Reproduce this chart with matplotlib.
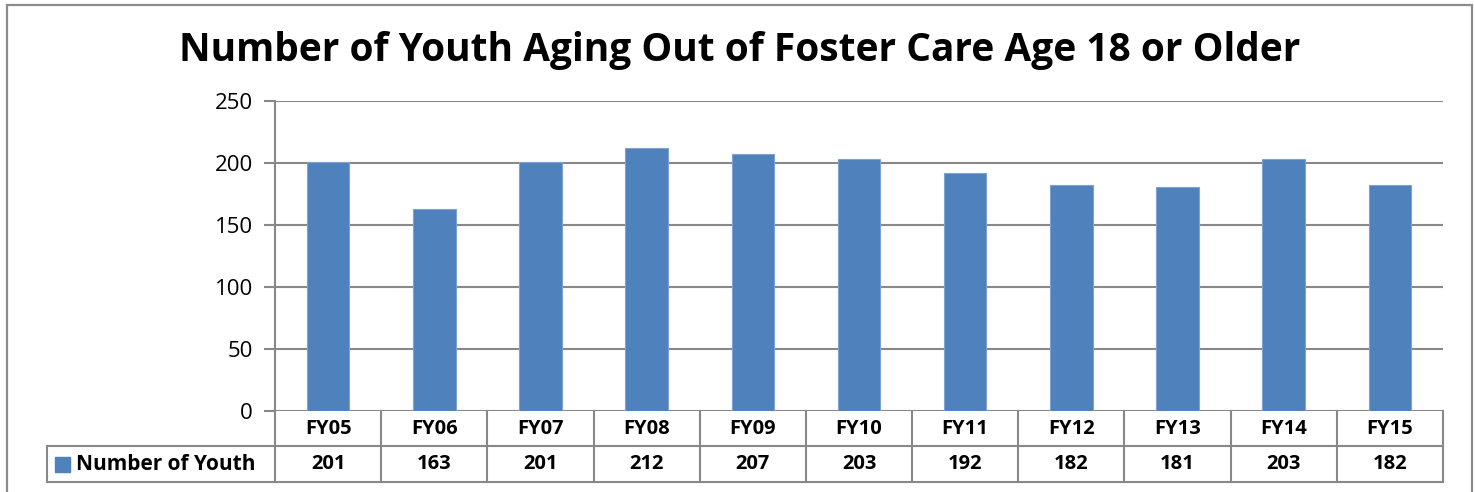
import matplotlib.pyplot as plt
from matplotlib.patches import Rectangle
from matplotlib.transforms import blended_transform_factory

# datos
years = ['FY05', 'FY06', 'FY07', 'FY08', 'FY09', 'FY10', 'FY11', 'FY12', 'FY13', 'FY14', 'FY15']
youth = [201, 163, 201, 212, 207, 203, 192, 182, 181, 203, 182]
series_name = 'Number of Youth'
yticks = [0, 50, 100, 150, 200, 250]

W, H = 1475, 492
bar_color = '#4F81BD'
grid_color = '#888888'
plt.rcParams['font.family'] = ['Open Sans', 'DejaVu Sans']

fig = plt.figure(figsize=(W / 100, H / 100), dpi=100)

# marco exterior
fig.patches.append(Rectangle((7 / W, -0.1), (1472 - 7) / W, (H - 5) / H + 0.1,
                             transform=fig.transFigure, fill=False,
                             edgecolor='#8c8c8c', lw=1.6))

left, right, top, bottom = 275, 1443, 101, 411
ax = fig.add_axes([left / W, (H - bottom) / H, (right - left) / W, (bottom - top) / H])

x = range(len(years))
ax.bar(x, youth, width=0.4, color=bar_color, edgecolor='#7ea3d3', lw=0.8, zorder=3)

ax.set_xlim(-0.5, len(years) - 0.5)
ax.set_ylim(0, 250)
ax.set_yticks(yticks)
ax.set_xticks([])
ax.yaxis.grid(True, color=grid_color, lw=1.5, zorder=0)
ax.tick_params(axis='y', length=8, width=1.5, color=grid_color, labelsize=16, pad=8)
for s in ['top', 'right', 'bottom']:
    ax.spines[s].set_visible(False)
ax.spines['left'].set_color(grid_color)
ax.spines['left'].set_linewidth(1.5)

fig.text(740 / W, 1 - 50 / H, 'Number of Youth Aging Out of Foster Care Age 18 or Older',
         ha='center', va='center', fontsize=28, fontweight='bold')

# tabla de datos
plot_h = bottom - top
r1 = -35 / plot_h
r2 = -71 / plot_h
tr = blended_transform_factory(ax.transData, ax.transAxes)
n = len(years)
kw = dict(color=grid_color, lw=1.5, clip_on=False)
ax.plot([-0.5, n - 0.5], [r1, r1], transform=tr, **kw)
ax.plot([-0.5, n - 0.5], [r2, r2], transform=tr, **kw)
for i in range(n + 1):
    ax.plot([i - 0.5, i - 0.5], [0, r2], transform=tr, **kw)
leg_x = (47 - left) / (right - left)
ax.plot([leg_x, 0], [r1, r1], transform=ax.transAxes, **kw)
ax.plot([leg_x, 0], [r2, r2], transform=ax.transAxes, **kw)
ax.plot([leg_x, leg_x], [r1, r2], transform=ax.transAxes, **kw)

for i, (yr, v) in enumerate(zip(years, youth)):
    ax.text(i, r1 / 2, yr, transform=tr, ha='center', va='center',
            fontsize=14.5, fontweight='bold')
    ax.text(i, (r1 + r2) / 2, str(v), transform=tr, ha='center', va='center',
            fontsize=14.5, fontweight='bold')

sq = 15 / (right - left)
ax.add_patch(Rectangle((leg_x + 8 / (right - left), (r1 + r2) / 2 - 7.5 / plot_h), sq, 15 / plot_h,
                       transform=ax.transAxes, color=bar_color, clip_on=False))
ax.text(leg_x + 29 / (right - left), (r1 + r2) / 2, series_name, transform=ax.transAxes,
        ha='left', va='center', fontsize=15, fontweight='bold')

fig.savefig('out.png', dpi=100)
